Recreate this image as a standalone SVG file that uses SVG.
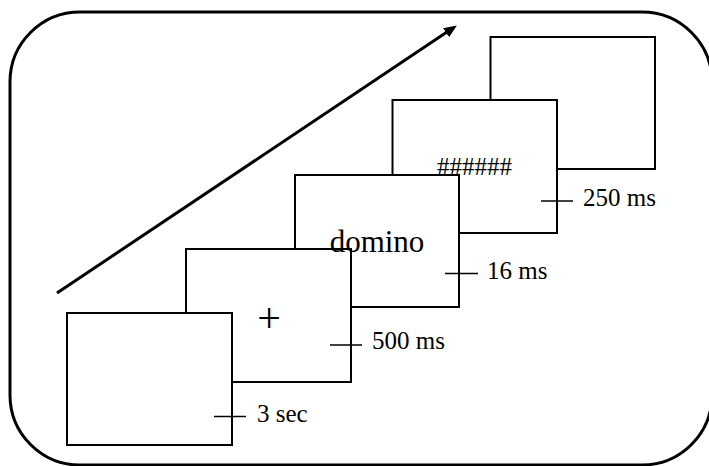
<svg xmlns="http://www.w3.org/2000/svg" width="709" height="466" viewBox="0 0 709 466">
  <defs>
    <style>
      .frame { fill: #ffffff; stroke: #000000; stroke-width: 3; }
      .screen { fill: #ffffff; stroke: #000000; stroke-width: 2; }
      .tick { stroke: #000000; stroke-width: 1.5; fill: none; }
      .lbl { font-family: "Liberation Serif", "Times New Roman", serif; font-size: 25px; fill: #000000; }
      .stim { font-family: "Liberation Serif", "Times New Roman", serif; fill: #000000; text-anchor: middle; }
      .arrow { stroke: #000000; stroke-width: 3; fill: none; }
    </style>
    <marker id="head" markerUnits="userSpaceOnUse" markerWidth="13" markerHeight="11" refX="2" refY="5.5" orient="auto">
      <path d="M0,0 L13,5.5 L0,11 z" fill="#000000"/>
    </marker>
  </defs>

  <rect id="frame" class="frame" x="10" y="12" width="702" height="453" rx="70" ry="70"/>

  <g id="connectors">
    <line class="arrow" x1="57" y1="293" x2="447.7" y2="31.6" marker-end="url(#head)"/>
  </g>

  <g id="screen5">
    <rect class="screen" x="490.5" y="37" width="164.5" height="132"/>
  </g>

  <g id="screen4">
    <rect class="screen" x="392.5" y="100" width="164.5" height="133"/>
    <line class="tick" x1="541" y1="201" x2="573" y2="201"/>
    <text class="lbl" x="583" y="206">250 ms</text>
  </g>

  <g id="screen3">
    <rect class="screen" x="295" y="175" width="164" height="132"/>
    <line class="tick" x1="445" y1="273.5" x2="478" y2="273.5"/>
    <text class="lbl" x="487" y="279">16 ms</text>
  </g>

  <g id="screen2">
    <rect class="screen" x="186" y="249" width="165" height="133"/>
    <line class="tick" x1="330" y1="345" x2="362" y2="345"/>
    <text class="lbl" x="372" y="349">500 ms</text>
  </g>

  <g id="screen1">
    <rect class="screen" x="67" y="313" width="165" height="132"/>
    <line class="tick" x1="214" y1="416.5" x2="246" y2="416.5"/>
    <text class="lbl" x="257" y="421.5">3 sec</text>
  </g>

  <g id="stimuli">
    <text class="stim" x="474.5" y="175" font-size="25">######</text>
    <text class="stim" x="377" y="252" font-size="31">domino</text>
    <text class="stim" x="269" y="332" font-size="42">+</text>
  </g>
</svg>
